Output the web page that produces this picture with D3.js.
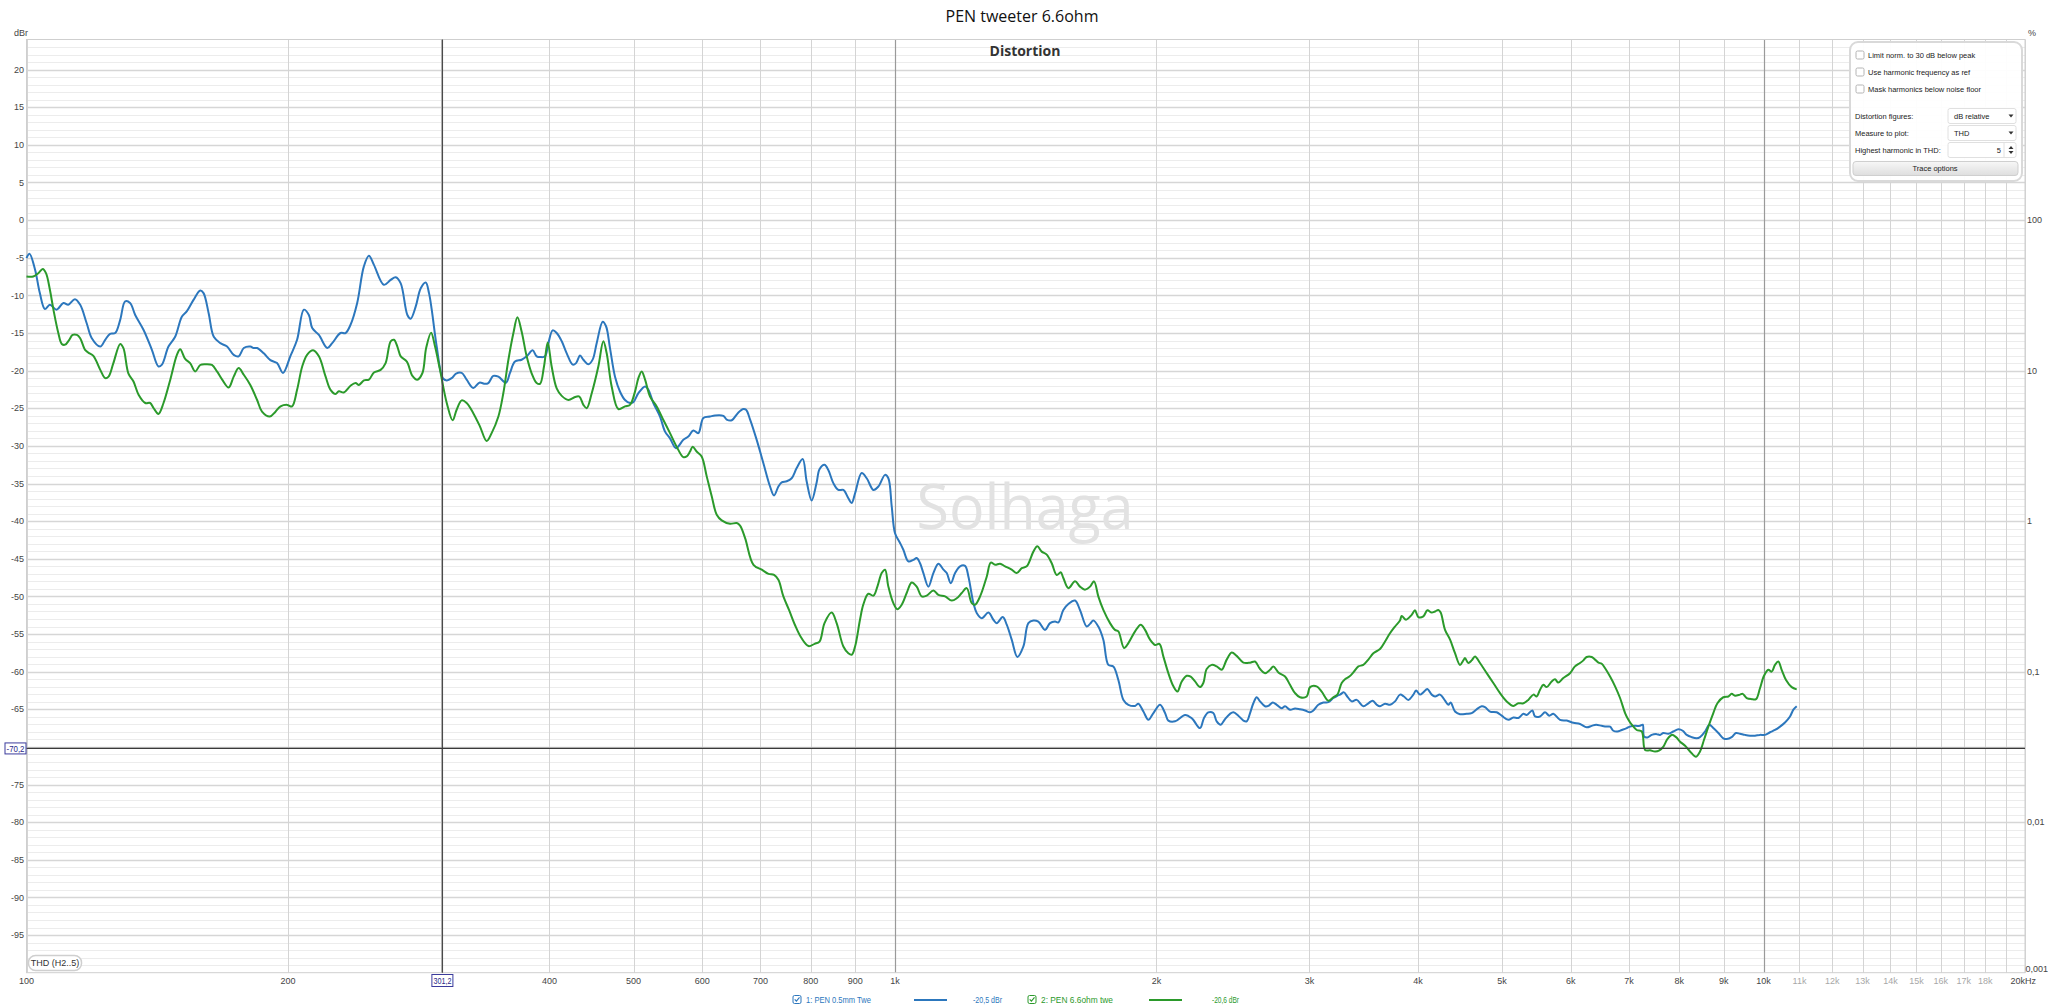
<!DOCTYPE html>
<html>
<head>
<meta charset="utf-8">
<script src="https://cdn.jsdelivr.net/npm/d3@7"></script>
<style>
  html, body { margin: 0; padding: 0; background: #fff; }
  svg { display: block; }
  .tick-label { font-family: "Liberation Sans Narrow", "Liberation Sans", Arial, sans-serif; font-size: 9px; fill: #444; }
  .ui { font-family: "Liberation Sans", Arial, sans-serif; font-size: 7.5px; fill: #222; }
</style>
</head>
<body>
<svg id="chart" width="2048" height="1007"></svg>
<script>
// ---------------- DATA ----------------
const title = "PEN tweeter 6.6ohm";
const subtitle = "Distortion";
const watermark = "Solhaga";
const seriesNames = ["1: PEN 0.5mm Twe", "2: PEN 6.6ohm twe"];
const seriesReadouts = ["-20,5 dBr", "-20,6 dBr"];
const cursorFreq = 301.2;
const cursorDb = -70.2;

// (-70 label is hidden behind the cursor readout box in the reference)
const yTicks = [20, 15, 10, 5, 0, -5, -10, -15, -20, -25, -30, -35, -40, -45, -50, -55, -60, -65, -75, -80, -85, -90, -95];
const pctTicks = [100, 10, 1, 0.1, 0.01, 0.001];
const pctLabels = ["100", "10", "1", "0,1", "0,01", "0,001"];
const xTickVals = [100, 200, 400, 500, 600, 700, 800, 900, 1000, 2000, 3000, 4000, 5000, 6000, 7000, 8000, 9000, 10000, 11000, 12000, 13000, 14000, 15000, 16000, 17000, 18000, 20000];
const xTickLabels = ["100", "200", "400", "500", "600", "700", "800", "900", "1k", "2k", "3k", "4k", "5k", "6k", "7k", "8k", "9k", "10k", "11k", "12k", "13k", "14k", "15k", "16k", "17k", "18k", "20kHz"];
const xGridVals = [100,200,300,400,500,600,700,800,900,1000,2000,3000,4000,5000,6000,7000,8000,9000,10000,11000,12000,13000,14000,15000,16000,17000,18000,19000,20000];

// Series 1 (blue): frequency (Hz), THD (dBr)
const blueFreq = [100,100.8,102.3,103.6,105.0,106.4,108.3,110.3,111.7,113.7,115.3,117.3,118.9,121.6,123.2,124.8,126.5,128.2,129.9,131.6,133.4,136.4,139.4,141.9,143.2,145.7,148.3,151.0,153.0,155.7,158.5,159.9,162.1,164.3,167.2,170.2,173.2,175.5,177.9,181.0,182.6,184.3,187.6,190.9,194.3,197.4,201.4,204.9,208.6,211.4,213.3,217.1,222.0,224.9,229.9,233.0,236.1,240.3,244.6,247.9,251.2,257.9,262.6,266.1,269.7,274.5,276.9,280.6,284.4,288.2,290.7,292.8,296.7,301.5,304.7,308.7,312.3,317.0,321.2,326.9,332.2,337.2,340.2,344.7,349.4,356.5,360.3,365.1,371.6,376.6,382.6,386.7,390.8,395.4,398.9,403.5,407.8,413.3,418.8,425.5,429.3,433.9,437.7,443.6,448.7,453.4,460.7,464.8,469.7,476.0,482.4,488.8,495.3,499.7,506.4,515.5,520.0,526.9,536.3,543.5,550.7,559.5,570.5,578.1,585.8,593.6,601.6,612.3,620.5,634.3,640.0,648.6,660.2,669.0,673.8,681.0,693.0,705.4,718.0,725.6,734.0,740.5,750.4,760.3,770.5,782.8,791.1,801.7,812.4,818.6,829.5,837.9,849.1,860.4,872.0,883.6,891.5,899.5,915.4,927.7,944.3,956.8,973.9,982.5,991.3,1000,1013.4,1022.3,1036.0,1049.8,1059.1,1068.6,1078.1,1092.5,1107.0,1121.9,1137.0,1147.0,1159.2,1172.7,1188.2,1204.1,1214.7,1231.0,1241.8,1258.5,1281.0,1297.9,1309.5,1330.5,1344.7,1362.5,1383.3,1405.4,1424.0,1443.1,1462.2,1488.3,1508.3,1528.5,1542.0,1562.4,1583.3,1611.6,1632.9,1662.1,1677.0,1691.8,1714.2,1737.2,1760.5,1783.8,1807.7,1832.3,1856.4,1889.6,1906.3,1931.9,1957.7,1983.8,2019.0,2046.0,2064.0,2101.0,2157.8,2196.4,2244.6,2268.5,2294.7,2325.2,2346.2,2371.4,2398.8,2430.5,2452.4,2484.8,2518.2,2540.3,2563.2,2585.7,2609.0,2632.0,2666.8,2690.8,2722.0,2751.0,2787.3,2812.4,2849.6,2887.9,2926.0,2965.4,3005.2,3031.6,3071.6,3113.0,3154.8,3196.5,3230.5,3253.7,3288.3,3311.8,3355.6,3400.7,3460.8,3507.3,3548.1,3585.9,3617.4,3666.1,3714.5,3764.4,3814.2,3854.8,3899.4,3951.8,3980.1,4022.5,4057.9,4101.1,4148.6,4185.6,4241.0,4298.0,4335.8,4362.8,4413.3,4471.6,4551.6,4612.8,4673.8,4736.6,4778.2,4842.4,4929.0,4994.1,5083.4,5151.7,5219.8,5290.0,5336.5,5417.0,5455.8,5529.1,5602.2,5667.1,5727.4,5830.2,5934.5,6040.6,6147.3,6257.3,6341.4,6414.8,6511.6,6597.6,6657.1,6715.6,6787.1,6865.7,6958.0,7019.1,7113.5,7207.5,7259.1,7284.2,7348.2,7433.3,7533.2,7599.4,7667.8,7769.1,7873.5,7979.3,8071.7,8157.6,8265.4,8376.5,8450.1,8563.7,8661.0,8753.2,8870.9,8988.1,9069.1,9188.9,9295.3,9394.3,9520.6,9646.4,9775.7,9906.0,10039,10173,10308,10447,10585,10727,10823,10919];
const blueDb = [-5.05,-4.47,-6.6,-9.7,-11.8,-11.25,-11.9,-11.0,-11.25,-10.5,-11.25,-13.7,-15.7,-16.8,-15.9,-15.1,-15.0,-13.25,-10.8,-11.0,-12.6,-14.6,-17.2,-19.45,-19.2,-16.8,-15.5,-12.8,-12.1,-10.6,-9.35,-9.7,-12.4,-15.5,-16.35,-16.8,-17.9,-18.1,-17.0,-16.8,-17.0,-17.0,-17.7,-18.6,-19.0,-20.3,-18.0,-15.9,-11.9,-12.6,-14.35,-15.25,-17.0,-16.35,-15.0,-15.0,-13.9,-11.0,-6.15,-4.75,-5.95,-8.6,-7.95,-7.6,-8.4,-12.6,-13.1,-11.5,-9.05,-8.3,-9.7,-11.9,-16.8,-21.0,-21.3,-21.0,-20.4,-20.3,-21.2,-22.3,-21.6,-21.75,-21.65,-20.7,-20.8,-21.6,-20.3,-18.8,-18.55,-18.1,-17.3,-18.1,-18.2,-18.1,-16.35,-14.65,-15.0,-16.1,-17.7,-19.2,-19.0,-18.0,-18.55,-19.15,-18.5,-16.35,-13.5,-14.1,-17.0,-20.8,-22.8,-23.9,-24.3,-24.2,-23.0,-22.1,-22.55,-24.3,-26.1,-28.1,-29.0,-30.3,-29.2,-28.75,-27.95,-28.3,-26.3,-26.1,-25.95,-26.0,-26.5,-26.6,-25.55,-25.1,-25.2,-26.5,-29.2,-32.3,-35.4,-36.6,-35.4,-34.85,-34.7,-34.3,-32.95,-31.75,-34.7,-37.25,-34.85,-33.1,-32.5,-33.2,-34.95,-35.85,-35.85,-36.95,-37.6,-36.3,-33.6,-34.3,-35.85,-35.4,-33.85,-34.3,-38.05,-41.6,-42.9,-43.8,-45.35,-45.15,-44.9,-45.6,-46.9,-48.7,-46.9,-45.65,-46.45,-46.9,-48.25,-46.9,-46.0,-45.95,-47.35,-50.9,-52.2,-52.9,-52.15,-53.1,-53.55,-52.75,-53.75,-55.75,-58.05,-56.65,-53.55,-53.2,-53.35,-54.45,-53.55,-53.35,-53.45,-51.8,-51.0,-50.55,-51.8,-54.0,-53.65,-53.2,-54.0,-55.75,-59.1,-59.3,-61.1,-63.75,-64.4,-64.55,-64.25,-65.3,-66.4,-65.5,-64.4,-65.5,-66.5,-66.6,-65.75,-66.2,-67.5,-66.15,-65.4,-65.5,-66.6,-67.05,-66.3,-65.6,-65.4,-65.85,-66.5,-66.6,-65.5,-64.2,-63.4,-63.95,-64.6,-64.55,-64.1,-64.4,-64.85,-64.6,-65.05,-64.9,-65.0,-65.15,-65.4,-65.15,-64.4,-64.1,-64.05,-63.5,-63.2,-63.05,-62.75,-63.2,-63.95,-63.75,-64.6,-64.2,-63.85,-64.4,-64.6,-64.25,-64.4,-63.95,-63.05,-63.3,-63.75,-63.05,-62.5,-63.05,-62.75,-62.3,-63.05,-63.3,-63.05,-63.85,-64.4,-64.1,-65.3,-65.65,-65.6,-65.5,-65.0,-64.6,-64.7,-65.3,-65.4,-65.85,-66.4,-66.1,-66.15,-65.6,-65.75,-65.15,-65.95,-65.95,-65.4,-65.85,-65.6,-66.4,-66.5,-66.8,-66.95,-67.4,-67.2,-67.05,-67.2,-67.3,-67.3,-67.85,-67.95,-67.75,-67.5,-67.3,-67.2,-67.2,-67.05,-68.6,-68.75,-68.4,-68.3,-68.4,-68.15,-68.25,-67.95,-67.65,-67.85,-68.4,-68.7,-68.85,-68.7,-67.95,-67.05,-67.5,-68.15,-68.85,-68.95,-68.7,-68.15,-68.25,-68.4,-68.5,-68.5,-68.4,-68.4,-68.05,-67.75,-67.3,-66.75,-65.95,-65.05,-64.6];

// Series 2 (green): frequency (Hz), THD (dBr)
const greenFreq = [100,101.8,103.2,104.4,105.3,106.4,107.4,108.8,109.8,110.8,112.0,113.0,114.3,115.3,116.8,117.8,119.4,121.6,123.2,124.3,125.9,128.2,129.3,131.0,132.8,134.6,137.0,138.8,140.1,141.9,143.8,146.4,149.0,150.3,152.3,154.3,156.4,158.5,160.6,163.5,165.7,168.0,170.9,173.2,175.5,177.9,181.0,184.3,186.7,190.6,193.5,196.1,199.6,202.2,204.9,207.7,210.4,213.8,217.1,221.0,223.9,226.9,228.9,231.9,236.1,239.3,241.4,244.6,247.9,251.2,255.7,259.1,262.6,264.9,267.3,269.7,274.1,278.2,281.8,285.6,288.5,292.3,295.4,299.3,304.7,309.5,312.8,317.0,321.2,326.9,332.7,338.7,343.2,349.4,354.0,358.8,363.6,367.5,371.6,376.6,381.6,386.7,390.2,394.3,398.2,402.4,407.8,413.3,420.7,428.2,433.1,437.7,441.6,447.5,455.4,461.5,465.6,471.8,480.2,488.8,495.3,502.0,506.4,510.9,515.5,522.3,531.6,541.1,550.7,560.5,570.5,575.6,580.7,584.8,591.0,598.9,607.0,615.1,623.3,631.6,645.7,657.3,663.1,672.0,687.1,702.4,715.0,725.6,734.0,743.8,755,767,780,795,808,818.6,829.5,845.4,856.6,872.0,883.6,891.5,899.5,911.3,919.3,931.6,944.3,954.3,965.3,973.9,982.5,995.6,1006.2,1017.9,1031.4,1045.2,1059.1,1073.3,1087.7,1107.0,1121.9,1142.0,1162.2,1177.7,1193.5,1209.4,1225.6,1236.4,1253.0,1275.4,1289.0,1303.9,1321.1,1338.8,1362.5,1380.8,1399.3,1417.8,1443.1,1458.4,1475.3,1495.1,1515.1,1535.3,1551.7,1562.4,1583.3,1611.6,1632.9,1654.6,1677.0,1694.9,1714.2,1737.2,1768.3,1791.6,1807.7,1835.3,1856.4,1889.6,1918.2,1940.3,1966.2,1992.6,2015.6,2037.0,2064.0,2091.8,2114.1,2138.6,2166.9,2190.0,2215.3,2244.6,2264.5,2284.7,2315.0,2346.2,2377.4,2409.2,2441.6,2473.9,2518.2,2563.2,2597.1,2632.0,2666.8,2702.6,2726.3,2763.0,2812.4,2849.6,2887.9,2926.0,2978.6,3005.2,3058.0,3099.1,3154.8,3196.5,3230.5,3268.1,3296.8,3334.9,3370.4,3415.8,3460.8,3507.3,3554.0,3617.4,3666.1,3714.5,3764.4,3814.2,3831.7,3875.9,3934.4,3969.0,4004.8,4057.9,4101.1,4148.6,4185.6,4222.4,4248.8,4298.0,4355.8,4413.3,4471.6,4511.6,4531.4,4571.9,4612.8,4653.2,4715.5,4800.1,4885.0,4972.5,5061.5,5151.7,5219.8,5290.0,5360.0,5432.5,5480.3,5529.1,5578.0,5627.1,5702.5,5752.6,5803.2,5881.1,5986.3,6065.4,6147.3,6202.3,6257.3,6341.4,6397.5,6455.2,6511.6,6570.3,6657.1,6746.2,6835.7,6927.6,6988.6,7050.8,7144.7,7240.9,7304.6,7402.7,7500.4,7587.3,7667.8,7749.5,7839.3,7930.2,8014.7,8122.3,8229.4,8361.4,8450.1,8540.2,8639.1,8753.2,8848.4,8988.1,9109.0,9188.9,9272.0,9394.3,9462.3,9563.4,9689.7,9801.9,9906.0,10012,10127,10218,10308,10399,10492,10614,10775,10919];
const greenDb = [-7.5,-7.5,-7.05,-6.5,-7.05,-9.25,-11.9,-15.0,-16.45,-16.55,-15.9,-15.25,-15.25,-15.7,-17.25,-17.6,-18.05,-19.9,-21.0,-20.8,-19.0,-16.45,-17.0,-20.35,-21.45,-23.2,-24.3,-24.3,-25.0,-25.75,-24.3,-21.2,-17.9,-17.15,-18.45,-19.0,-20.1,-19.25,-19.15,-19.25,-20.1,-21.2,-22.25,-20.8,-19.65,-20.55,-21.9,-23.9,-25.45,-26.1,-25.45,-24.75,-24.55,-24.75,-22.55,-19.45,-17.9,-17.3,-18.1,-20.8,-22.55,-23.1,-22.75,-22.9,-22.0,-21.65,-21.9,-21.3,-21.2,-20.25,-19.9,-19.0,-16.1,-15.9,-16.8,-18.1,-18.8,-20.7,-21.2,-20.35,-17.0,-14.95,-16.8,-19.9,-24.3,-26.6,-25.2,-23.95,-24.3,-25.65,-27.4,-29.35,-28.3,-26.1,-23.0,-18.55,-15.0,-12.9,-14.8,-18.1,-20.35,-21.65,-21.75,-19.45,-16.25,-19.45,-22.35,-23.35,-23.9,-23.5,-23.45,-24.55,-25.0,-23.0,-19.45,-16.1,-17.7,-22.1,-25.1,-24.75,-24.55,-22.75,-21.0,-20.1,-21.2,-23.45,-24.75,-26.55,-28.3,-30.1,-31.5,-31.4,-30.75,-30.1,-30.75,-31.4,-34.05,-36.7,-39.15,-39.9,-40.35,-40.25,-40.6,-42.25,-45.8,-46.45,-47.0,-47.15,-47.8,-50.0,-51.8,-53.8,-55.5,-56.6,-56.3,-56.0,-53.55,-52.15,-53.55,-56.65,-57.55,-57.75,-56.65,-53.1,-51.1,-49.65,-49.9,-48.7,-46.9,-46.45,-48.7,-50.9,-51.7,-51.1,-49.55,-48.15,-48.7,-50.0,-49.9,-49.2,-49.8,-50.0,-50.55,-50.25,-49.55,-48.9,-50.9,-51.1,-50.0,-47.35,-45.5,-45.8,-45.65,-46.0,-46.45,-46.9,-46.25,-46.0,-44.05,-43.35,-44.05,-44.45,-45.6,-47.15,-46.8,-47.55,-48.9,-48.0,-48.7,-49.1,-48.7,-48.0,-50.0,-51.8,-53.55,-54.45,-54.65,-56.85,-56.2,-54.65,-53.75,-54.45,-55.75,-56.45,-56.3,-58.0,-60.2,-61.95,-62.65,-61.3,-60.55,-60.65,-61.3,-62.05,-61.5,-59.65,-59.1,-59.3,-59.75,-58.4,-57.45,-57.9,-58.8,-58.8,-58.65,-59.65,-60.2,-59.75,-59.3,-60.1,-60.65,-61.75,-62.85,-63.4,-63.3,-62.05,-61.95,-62.65,-63.85,-63.4,-63.05,-61.5,-61.0,-60.65,-60.1,-59.3,-59.1,-58.4,-57.55,-57.0,-56.0,-54.9,-54.0,-53.2,-52.6,-53.1,-52.45,-51.85,-52.75,-52.65,-51.85,-52.15,-52.0,-51.8,-52.15,-54.45,-55.75,-57.55,-59.1,-58.5,-58.2,-58.85,-58.5,-58.0,-58.85,-60.2,-61.5,-62.85,-63.95,-64.55,-64.2,-64.2,-63.75,-63.05,-63.3,-62.4,-61.75,-62.05,-61.3,-61.0,-61.45,-60.85,-60.2,-59.3,-58.85,-58.5,-58.05,-58.05,-58.4,-58.8,-58.95,-59.55,-60.65,-61.95,-63.5,-65.5,-66.4,-67.05,-67.75,-67.95,-70.4,-70.45,-70.6,-70.45,-69.95,-68.95,-68.4,-68.7,-69.3,-69.85,-70.6,-71.3,-70.6,-69.05,-67.3,-65.5,-64.2,-63.4,-63.3,-62.95,-63.2,-63.05,-62.95,-63.5,-63.65,-63.65,-62.2,-60.55,-59.75,-60.0,-59.1,-58.65,-59.75,-61.1,-62.05,-62.35];

const seriesColors = ["#2c77bd", "#2b9a2b"];

// ---------------- LAYOUT ----------------
const W = 2048, H = 1007;
const plot = { left: 26.5, right: 2025, top: 39.5, bottom: 972.7 };

const svg = d3.select("#chart");
svg.append("rect").attr("width", W).attr("height", H).attr("fill", "#fff");

const x = d3.scaleLog().domain([100, 20000]).range([plot.left, plot.right]);
const y = d3.scaleLinear().domain([24, -100]).range([plot.top, plot.bottom]);
const yPct = d3.scaleLog().domain([100 * Math.pow(10, 24 / 20), 0.001]).range([plot.top, plot.bottom]);

const g = svg.append("g");

// Minor horizontal grid (1 dB)
const minorDb = d3.range(-99, 24, 1).filter(v => v % 5 !== 0);
g.append("g").selectAll("line").data(minorDb).join("line")
  .attr("x1", plot.left).attr("x2", plot.right)
  .attr("y1", d => Math.round(y(d)) + 0.5).attr("y2", d => Math.round(y(d)) + 0.5)
  .attr("stroke", "#ececec").attr("stroke-width", 1);
// Major horizontal grid (5 dB)
const majorDb = d3.range(-95, 24, 5);
g.append("g").selectAll("line").data(majorDb).join("line")
  .attr("x1", plot.left).attr("x2", plot.right)
  .attr("y1", d => Math.round(y(d)) + 0.5).attr("y2", d => Math.round(y(d)) + 0.5)
  .attr("stroke", "#d6d6d6").attr("stroke-width", 1.3);

// Vertical grid
g.append("g").selectAll("line").data(xGridVals).join("line")
  .attr("x1", d => Math.round(x(d)) + 0.5).attr("x2", d => Math.round(x(d)) + 0.5)
  .attr("y1", plot.top).attr("y2", plot.bottom)
  .attr("stroke", d => (d === 1000 || d === 10000) ? "#9a9a9a" : "#d4d4d4")
  .attr("stroke-width", d => (d === 1000 || d === 10000) ? 1.2 : 1);

// Plot frame
g.append("rect").attr("x", plot.left).attr("y", plot.top)
  .attr("width", plot.right - plot.left).attr("height", plot.bottom - plot.top)
  .attr("fill", "none").attr("stroke", "#cfcfcf").attr("stroke-width", 1);

// Watermark
svg.append("text").attr("x", 1025).attr("y", 529).attr("text-anchor", "middle")
  .attr("font-family", "'Open Sans', 'Noto Sans', sans-serif").attr("font-size", 62)
  .attr("fill", "#e2e2e2").attr("textLength", 217).attr("lengthAdjust", "spacingAndGlyphs")
  .text(watermark);

// Titles
svg.append("text").attr("x", 1022).attr("y", 22).attr("text-anchor", "middle")
  .attr("font-family", "'Open Sans', 'Noto Sans', sans-serif").attr("font-size", 16).attr("fill", "#111")
  .text(title);
svg.append("text").attr("x", 1025).attr("y", 56).attr("text-anchor", "middle")
  .attr("font-family", "'Open Sans', 'Noto Sans', sans-serif").attr("font-size", 14).attr("font-weight", "bold").attr("fill", "#333")
  .text(subtitle);

// Left axis labels
svg.append("g").selectAll("text").data(yTicks).join("text")
  .attr("class", "tick-label").attr("x", 24).attr("y", d => y(d)).attr("dy", "0.35em")
  .attr("text-anchor", "end").text(d => d);
svg.append("text").attr("class", "tick-label").attr("x", 14).attr("y", 36).attr("font-size", 8).text("dBr");

// Right axis labels (%)
const lastPct = pctTicks.length - 1;
svg.append("g").selectAll("text").data(pctTicks).join("text")
  .attr("class", "tick-label")
  .attr("x", (d, i) => i === lastPct ? 2025.5 : 2027)
  .attr("y", (d, i) => i === lastPct ? yPct(d) - 1 : yPct(d))
  .attr("dy", (d, i) => i === lastPct ? "0em" : "0.35em")
  .attr("font-size", (d, i) => i === lastPct ? 7.5 : 9)
  .attr("text-anchor", "start")
  .text((d, i) => pctLabels[i]);
svg.append("text").attr("class", "tick-label").attr("x", 2028).attr("y", 36).text("%");

// Bottom axis labels
svg.append("g").selectAll("text").data(xTickVals).join("text")
  .attr("class", "tick-label")
  .attr("x", d => d === 20000 ? 2036 : x(d)).attr("y", 984)
  .attr("text-anchor", d => d === 20000 ? "end" : "middle")
  .style("fill", d => d > 10000 && d < 20000 ? "#a8a8a8" : null)
  .text((d, i) => xTickLabels[i]);

// Curves
const line = d3.line().x(d => x(d[0])).y(d => y(d[1])).curve(d3.curveCatmullRom.alpha(0.5));
const blueData = blueFreq.map((f, i) => [f, blueDb[i]]);
const greenData = greenFreq.map((f, i) => [f, greenDb[i]]);
const curves = svg.append("g");
curves.append("path").datum(blueData).attr("d", line).attr("fill", "none")
  .attr("stroke", seriesColors[0]).attr("stroke-width", 2).attr("stroke-linejoin", "round");
curves.append("path").datum(greenData).attr("d", line).attr("fill", "none")
  .attr("stroke", seriesColors[1]).attr("stroke-width", 2).attr("stroke-linejoin", "round");

// Cursors
const cx = x(cursorFreq), cy = y(cursorDb);
svg.append("line").attr("x1", cx).attr("x2", cx).attr("y1", plot.top).attr("y2", plot.bottom)
  .attr("stroke", "#4a4a4a").attr("stroke-width", 1.3);
svg.append("line").attr("x1", plot.left).attr("x2", plot.right).attr("y1", cy).attr("y2", cy)
  .attr("stroke", "#3a3a3a").attr("stroke-width", 1.3);
function cursorBox(xc, yc, w, h, txt) {
  const gg = svg.append("g");
  gg.append("rect").attr("x", xc - w / 2).attr("y", yc - h / 2).attr("width", w).attr("height", h)
    .attr("fill", "#fff").attr("stroke", "#3b3b9c").attr("stroke-width", 1);
  gg.append("text").attr("class", "tick-label").attr("x", xc).attr("y", yc).attr("dy", "0.35em")
    .attr("text-anchor", "middle").style("fill", "#2a2a8a").attr("font-size", 8.5)
    .attr("textLength", w - 3).attr("lengthAdjust", "spacingAndGlyphs").text(txt);
}
cursorBox(15.5, cy, 21, 11, String(cursorDb).replace(".", ","));
cursorBox(cx, 980.5, 21, 12, String(cursorFreq).replace(".", ","));

// THD label box
svg.append("rect").attr("x", 28.5).attr("y", 955.5).attr("width", 53).attr("height", 15).attr("rx", 7)
  .attr("fill", "#fff").attr("stroke", "#cfcfcf").attr("stroke-width", 1.5);
svg.append("text").attr("class", "tick-label").attr("x", 55).attr("y", 963).attr("dy", "0.35em")
  .attr("text-anchor", "middle").attr("font-size", 8).style("fill", "#333").text("THD (H2..5)");

// Legend
const legY = 1000;
const legendItems = [
  { cb: 797, tx: 806, tw: 65, l1: 914, l2: 947, rv: 973, rw: 29 },
  { cb: 1032, tx: 1041, tw: 72, l1: 1149, l2: 1182, rv: 1212, rw: 27 }
];
legendItems.forEach((it, i) => {
  const c = seriesColors[i];
  svg.append("rect").attr("x", it.cb - 4).attr("y", legY - 4.5).attr("width", 8).attr("height", 8).attr("rx", 1.5)
    .attr("fill", "#fff").attr("stroke", c).attr("stroke-width", 1);
  svg.append("path").attr("d", `M${it.cb - 2.3},${legY - 0.7} L${it.cb - 0.6},${legY + 1.2} L${it.cb + 2.5},${legY - 2.6}`)
    .attr("fill", "none").attr("stroke", c).attr("stroke-width", 1.1);
  svg.append("text").attr("class", "tick-label").attr("x", it.tx).attr("y", legY).attr("dy", "0.35em")
    .attr("font-size", 8).style("fill", c).attr("textLength", it.tw).attr("lengthAdjust", "spacingAndGlyphs")
    .text(seriesNames[i]);
  svg.append("line").attr("x1", it.l1).attr("x2", it.l2).attr("y1", legY).attr("y2", legY)
    .attr("stroke", c).attr("stroke-width", 2);
  svg.append("text").attr("class", "tick-label").attr("x", it.rv).attr("y", legY).attr("dy", "0.35em")
    .attr("font-size", 8).style("fill", c).attr("textLength", it.rw).attr("lengthAdjust", "spacingAndGlyphs")
    .text(seriesReadouts[i]);
});

// Settings panel
const panel = svg.append("g");
const defs = svg.append("defs");
const grad = defs.append("linearGradient").attr("id", "btnGrad").attr("x1", 0).attr("x2", 0).attr("y1", 0).attr("y2", 1);
grad.append("stop").attr("offset", "0%").attr("stop-color", "#f7f7f7");
grad.append("stop").attr("offset", "100%").attr("stop-color", "#dedede");
panel.append("rect").attr("x", 1850).attr("y", 42).attr("width", 172).attr("height", 139).attr("rx", 8)
  .attr("fill", "#fff").attr("fill-opacity", 0.95).attr("stroke", "#d9d9d9").attr("stroke-width", 2);
const checks = ["Limit norm. to 30 dB below peak", "Use harmonic frequency as ref", "Mask harmonics below noise floor"];
checks.forEach((t, i) => {
  const yy = 55 + i * 17;
  panel.append("rect").attr("x", 1856).attr("y", yy - 4).attr("width", 8).attr("height", 8).attr("rx", 1.5)
    .attr("fill", "#fff").attr("stroke", "#b4b4b4");
  panel.append("text").attr("class", "ui").attr("x", 1868).attr("y", yy).attr("dy", "0.35em").text(t);
});
const rows = [
  { label: "Distortion figures:", val: "dB relative", y: 116, type: "drop" },
  { label: "Measure to plot:", val: "THD", y: 133, type: "drop" },
  { label: "Highest harmonic in THD:", val: "5", y: 150, type: "spin" }
];
rows.forEach(r => {
  panel.append("text").attr("class", "ui").attr("x", 1855).attr("y", r.y).attr("dy", "0.35em").text(r.label);
  panel.append("rect").attr("x", 1948).attr("y", r.y - 7.5).attr("width", 68).attr("height", 15).attr("rx", 2)
    .attr("fill", "#fff").attr("stroke", "#e0e0e0");
  if (r.type === "drop") {
    panel.append("text").attr("class", "ui").attr("x", 1954).attr("y", r.y).attr("dy", "0.35em").text(r.val);
    panel.append("path").attr("d", `M${2008.5},${r.y - 1.5} L${2013.5},${r.y - 1.5} L${2011},${r.y + 1.5} Z`).attr("fill", "#333");
  } else {
    panel.append("line").attr("x1", 2004).attr("x2", 2004).attr("y1", r.y - 7).attr("y2", r.y + 7).attr("stroke", "#e0e0e0");
    panel.append("text").attr("class", "ui").attr("x", 2001).attr("y", r.y).attr("dy", "0.35em").attr("text-anchor", "end").text(r.val);
    panel.append("path").attr("d", `M${2008.5},${r.y - 1} L${2013.5},${r.y - 1} L${2011},${r.y - 4} Z M${2008.5},${r.y + 1} L${2013.5},${r.y + 1} L${2011},${r.y + 4} Z`).attr("fill", "#333");
  }
});
panel.append("rect").attr("x", 1853).attr("y", 161.5).attr("width", 165).attr("height", 14).attr("rx", 3)
  .attr("fill", "url(#btnGrad)").attr("stroke", "#cfcfcf");
panel.append("text").attr("class", "ui").attr("x", 1935).attr("y", 168.5).attr("dy", "0.35em")
  .attr("text-anchor", "middle").text("Trace options");
</script>
</body>
</html>
